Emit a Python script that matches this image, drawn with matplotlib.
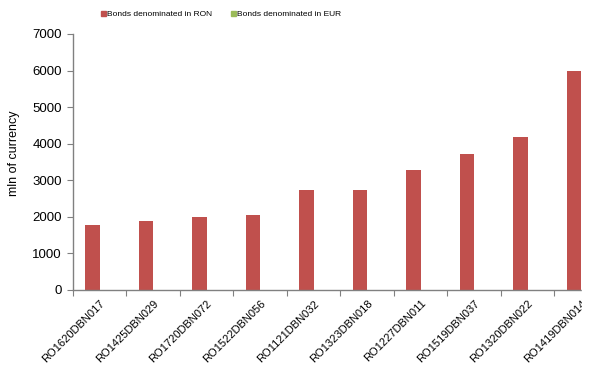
import matplotlib.pyplot as plt
import matplotlib.patches as mpatches
import numpy as np

plt.rcParams['font.family'] = ['Liberation Sans', 'DejaVu Sans']

bonds = ['RO1620DBN017', 'RO1425DBN029', 'RO1720DBN072', 'RO1522DBN056', 'RO1121DBN032',
         'RO1323DBN018', 'RO1227DBN011', 'RO1519DBN037', 'RO1320DBN022', 'RO1419DBN014']
ron = [1780, 1880, 1995, 2045, 2735, 2740, 3270, 3720, 4190, 5980]
eur = [0, 0, 0, 0, 0, 0, 0, 0, 0, 0]

red = '#C0504D'
green = '#9BBB59'
grey = '#808080'

fig = plt.figure(figsize=(5.98, 3.65), dpi=100)
ax = fig.add_axes([73 / 598, 75 / 365, (581 - 73) / 598, (290 - 34) / 365])

x = np.arange(len(bonds))
w = 0.27
ax.bar(x - w / 2, ron, w, color=red, linewidth=0, label='Bonds denominated in RON')
ax.bar(x + w / 2, eur, w, color=green, linewidth=0, label='Bonds denominated in EUR')

ax.set_yticks(range(0, 7001, 1000))
ax.set_xticks(np.arange(-0.5, 9.6, 1.0))
ax.set_xticklabels([])
ax.set_xticks(x, minor=True)
ax.set_xticklabels(bonds, minor=True, rotation=45, ha='right', va='top',
                   rotation_mode='anchor', fontsize=8)
ax.set_xlim(-0.5, 9.0)
ax.set_ylim(0, 7000)
ax.tick_params(axis='x', which='minor', length=0, pad=6)
ax.tick_params(axis='x', which='major', length=4, color=grey, direction='out')
ax.tick_params(axis='y', length=4, color=grey, direction='out', labelsize=9.5, pad=4)

for s in ['top', 'right']:
    ax.spines[s].set_visible(False)
for s in ['left', 'bottom']:
    ax.spines[s].set_color(grey)
    ax.spines[s].set_linewidth(1)

ax.set_ylabel('mln of currency', fontsize=9)
ax.yaxis.set_label_coords(-0.104, 0.535)

handles = [mpatches.Patch(color=red), mpatches.Patch(color=green)]
fig.legend(handles, ['Bonds denominated in RON', 'Bonds denominated in EUR'],
           loc='center', bbox_to_anchor=(221 / 598, 1 - 14.5 / 365), ncol=2,
           frameon=False, fontsize=6, handlelength=0.6, handleheight=0.6,
           handletextpad=0.15, columnspacing=2.2)

# the reference clips everything past the plot edge
fig.add_artist(mpatches.Rectangle((582 / 598, 0), 16 / 598, 1, transform=fig.transFigure,
                                  color='white', zorder=10))

fig.savefig('out.png', dpi=100)
